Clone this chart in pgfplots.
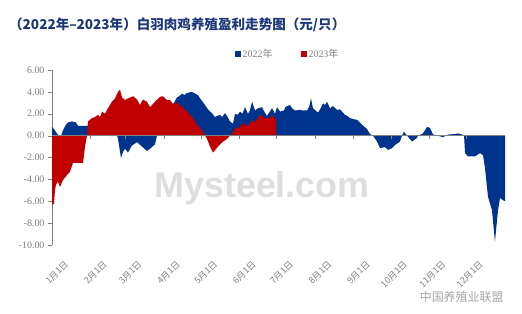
\documentclass[border=0pt]{standalone}
\usepackage{fontspec}
\setmainfont{Liberation Serif}
\newfontfamily\cjk{Noto Sans CJK SC}
\newfontfamily\wm{Liberation Sans}
\usepackage{pgfplots}
\pgfplotsset{compat=1.18}
\definecolor{b22}{RGB}{0,52,140}
\definecolor{r23}{RGB}{192,0,0}
\definecolor{tgray}{RGB}{128,128,128}
\definecolor{titleblue}{RGB}{28,56,121}
\newcommand\md[1]{{\cjk #1月1日}}
\begin{document}
\begin{tikzpicture}
\path[use as bounding box] (0,0) rectangle (522bp,314bp);
\node[anchor=west, text=titleblue, font=\cjk\bfseries\fontsize{13.6}{16}\selectfont, inner sep=0] at (9bp,289bp) {（2022年–2023年）白羽肉鸡养殖盈利走势图（元/只）};
\node[text=black!13, font=\wm\bfseries\fontsize{36}{36}\selectfont] at (262bp,126bp) {Mysteel.com};
\node[text=black!35, font=\cjk\fontsize{12}{14}\selectfont, anchor=east] at (507bp,17bp) {中国养殖业联盟};
\begin{axis}[
  at={(52bp,69bp)}, anchor=south west, scale only axis,
  width=453bp, height=175bp,
  xmin=0, xmax=365, ymin=-10, ymax=6,
  axis y line*=left, axis x line*=bottom,
  x axis line style={draw=none},
  y axis line style={tgray},
  ytick={-10,-8,...,6},
  ytick style={tgray}, tick align=outside,
  major tick length=4bp,
  xtick={0,31,59,90,120,151,181,212,243,273,304,334},
  xticklabels={\md{1},\md{2},\md{3},\md{4},\md{5},\md{6},\md{7},\md{8},\md{9},\md{10},\md{11},\md{12}},
  xtick style={draw=none},
  x tick label style={rotate=45, anchor=north east, text=tgray, font=\fontsize{9}{11}\selectfont, yshift=-15bp, xshift=2bp, inner sep=1bp},
  y tick label style={text=tgray, font=\fontsize{10}{12}\selectfont},
  /pgf/number format/assume math mode=true,
  yticklabel={\pgfmathprintnumber[fixed,fixed zerofill,precision=2]{\tick}},
  legend style={at={(0.52,1)}, anchor=south, yshift=7bp, draw=none, fill=none,
    legend columns=2, font=\fontsize{10}{12}\selectfont, text=tgray,
    /tikz/every even column/.append style={column sep=26bp}},
  legend image code/.code={\fill[#1] (0bp,-3bp) rectangle (6bp,3bp);},
  clip=false
]
\addplot[fill=b22, draw=none] coordinates {
(0,0) (0,0.8) (1.6,0.6) (4,0.2) (5.6,0) (7.3,0) (8.9,0.5) (11.3,1.0) (12.9,1.2) (16.1,1.3) (19.3,1.2) (21,0.9) (29,0.9) (32.2,1.2) (38.7,1.5) (45.1,1.0) (48.3,-0.1) (49.9,0.3) (52.4,0) (53.2,-0.3) (55.6,-2.05) (57.2,-1.5) (58.8,-1.2) (61.2,-1.55) (64.5,-0.9) (68.5,-0.6) (72.5,-1.0) (76.5,-1.4) (79,-1.2) (83,-0.8) (84.6,0) (87,1.0) (91,2.0) (95,2.6) (98.3,3.0) (100.7,3.5) (102.5,3.6) (104.8,3.85) (106.5,3.7) (108.8,3.9) (112.8,4.0) (116,3.8) (117.6,3.7) (120,3.3) (123.3,2.8) (125.7,2.4) (128.9,2.05) (131.3,1.7) (133,1.8) (135.4,1.9) (137,1.7) (139.4,2.05) (141,1.8) (143.4,1.3) (145.8,1.1) (147.5,2.0) (149.5,1.9) (151.5,2.2) (153.5,2.0) (155.5,2.6) (157.9,2.0) (159.5,2.3) (161.2,3.1) (163.6,2.3) (166,2.5) (169.2,2.6) (171,2.2) (173.2,1.8) (175.5,2.2) (177.3,2.5) (179.7,2.0) (181.3,2.6) (183.7,2.2) (186.9,2.3) (188,2.6) (189.4,2.7) (191.8,2.8) (193.5,2.5) (195.8,2.3) (199.8,2.35) (202,2.3) (205.5,2.3) (207.1,2.6) (208.7,3.4) (210.3,2.5) (214.3,2.1) (216,2.4) (218.4,2.95) (220,2.8) (221.6,3.1) (224,2.5) (226.4,2.7) (229.7,2.35) (232.1,2.4) (236.1,1.9) (238,1.8) (240.1,1.6) (243,1.5) (245.8,1.45) (249.8,1.0) (253.8,0.6) (256.2,0.15) (258.7,0) (261.9,-0.55) (264.3,-1.15) (268.3,-1.05) (270.7,-1.3) (274,-1.15) (276.4,-0.85) (280.4,-0.55) (282,0) (283.6,0.35) (286.1,0) (290.1,-0.55) (294.1,-0.2) (294.9,0) (298.9,0.2) (302.2,0.8) (304.6,0.7) (307,0.1) (311,0) (315,-0.15) (319.1,0.1) (324.7,0.15) (327.2,0.2) (330.4,0.1) (332,0) (332.8,-1.6) (335.2,-1.9) (340.8,-1.9) (344.9,-1.6) (347.3,-1.8) (348.9,-3.0) (351.3,-5.6) (354.5,-6.8) (356.9,-9.7) (358.6,-7.7) (359.4,-6.8) (361,-5.7) (363.4,-5.9) (365,-6.0) (365,0)
} \closedcycle;
\addlegendentry{2022{\cjk 年}}
\addplot[fill=r23, draw=none] coordinates {
(0,0) (0,-6.35) (1.6,-6.2) (2.4,-5.0) (3.2,-4.5) (4.8,-4.2) (6.4,-4.7) (8.9,-4.05) (12.1,-3.6) (14.5,-3.3) (16.9,-2.5) (25,-2.5) (26.6,-1.0) (28.2,0) (29,1.3) (32.2,1.6) (34.6,1.7) (37.1,1.9) (38.7,1.7) (40.3,2.2) (42.7,2.0) (45.1,2.5) (48.3,3.1) (50.8,3.4) (53.2,4.0) (54.8,4.2) (56.4,3.5) (58.8,3.25) (61.2,3.4) (65.3,3.6) (68.5,3.3) (70.9,2.8) (73.3,3.3) (76.5,3.1) (79,2.6) (83,3.1) (87,3.55) (89.4,3.6) (92.7,3.25) (95.1,3.25) (97.5,2.9) (100.7,3.0) (103.1,2.8) (107.2,2.4) (110.4,2.0) (113.6,1.6) (116.8,1.0) (119.3,0.7) (122.5,0.2) (124.9,-0.3) (127.3,-1.0) (129.7,-1.55) (133.8,-1.0) (137.8,-0.55) (141,-0.3) (143.4,0) (145.8,0.3) (147.5,0.65) (151.5,0.8) (153.9,1.1) (157.9,0.9) (161.2,1.4) (163.6,1.2) (167.6,1.9) (171.6,1.6) (175.7,1.6) (177.3,1.9) (179.7,1.5) (180.5,1.6) (180.5,0)
} \closedcycle;
\addlegendentry{2023{\cjk 年}}
\addplot[ycomb, tgray, mark=none, forget plot] coordinates {(31,-0.35) (59,-0.35) (90,-0.35) (120,-0.35) (151,-0.35) (181,-0.35) (212,-0.35) (243,-0.35) (273,-0.35) (304,-0.35) (334,-0.35)};
\addplot[tgray, mark=none, forget plot] coordinates {(0,0) (365,0)};
\end{axis}
\end{tikzpicture}
\end{document}
